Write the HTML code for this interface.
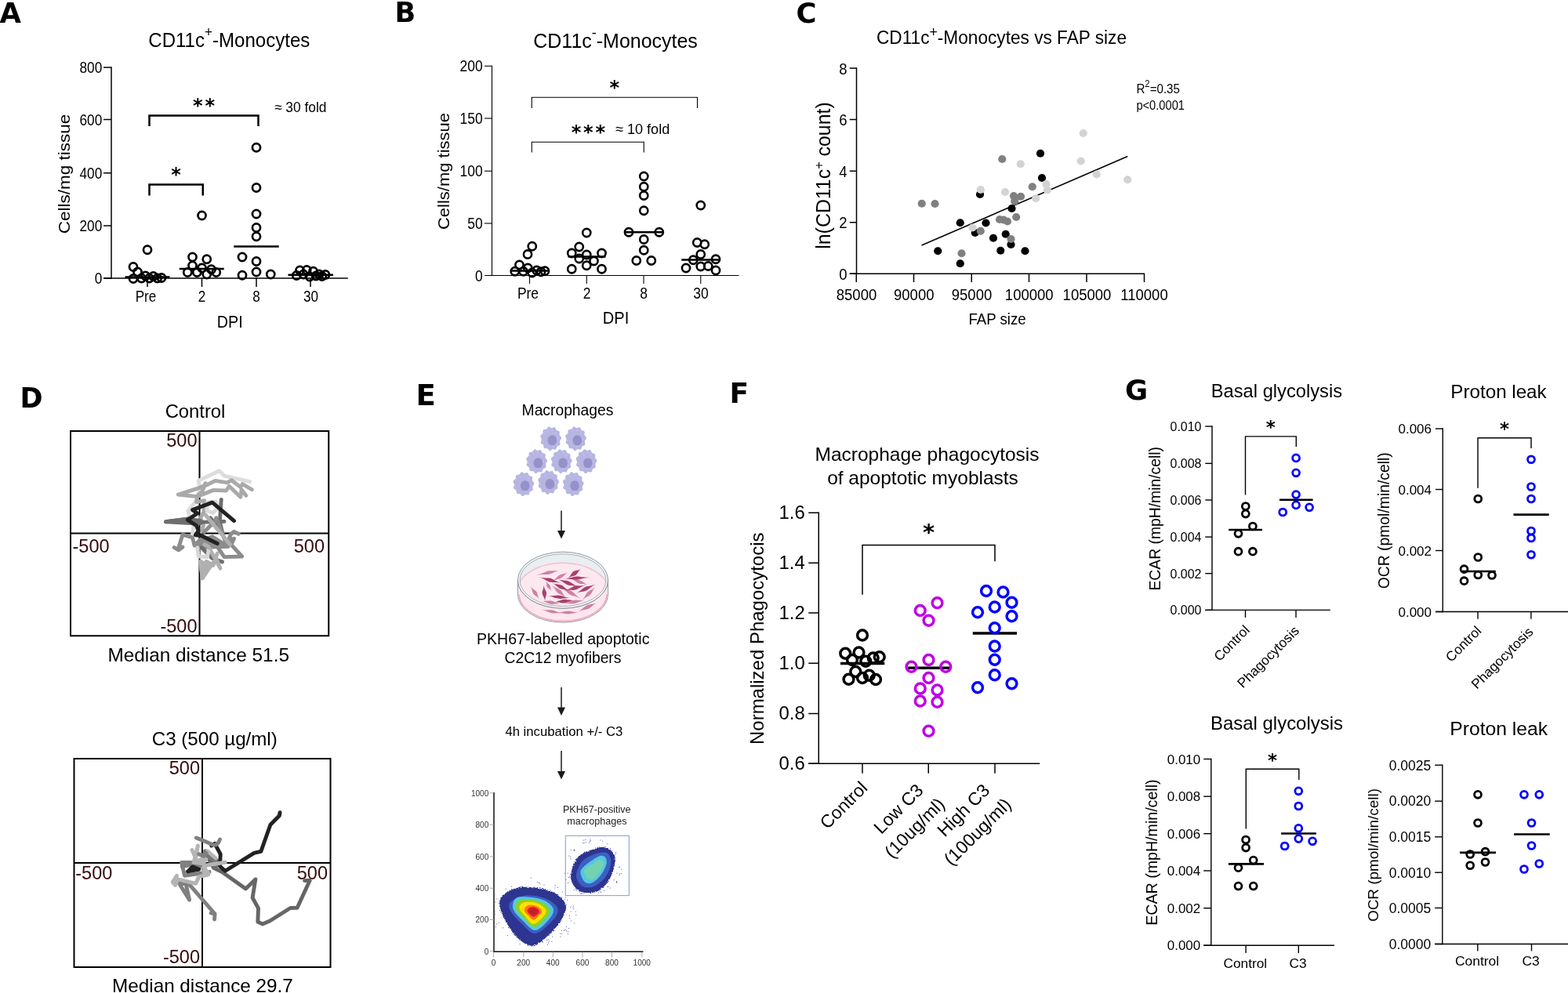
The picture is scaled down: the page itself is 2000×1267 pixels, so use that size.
<!DOCTYPE html>
<html lang="en"><head><meta charset="utf-8"><title>Figure</title>
<style>
html,body{margin:0;padding:0;background:#fff;}
body{width:2000px;height:1267px;}
svg{display:block;font-family:"Liberation Sans", sans-serif;}
text{white-space:pre;}
</style></head><body>
<svg width="2000" height="1267" viewBox="0 0 2000 1267">
<rect x="0" y="0" width="2000" height="1267" fill="#fff"/>
<!-- Panel A -->
<text x="-0.5" y="28.8" font-size="35.5" font-weight="bold" font-family='"DejaVu Sans", "Liberation Sans", sans-serif'>A</text>
<text x="189.3" y="60.3" font-size="26.4" textLength="206" lengthAdjust="spacingAndGlyphs">CD11c<tspan font-size="19" dy="-13">+</tspan><tspan dy="13">-Monocytes</tspan></text>
<line x1="142" y1="85.25" x2="142" y2="355.75" stroke="#000" stroke-width="1.5"/>
<line x1="132" y1="355" x2="443.75" y2="355" stroke="#000" stroke-width="1.5"/>
<line x1="132" y1="86" x2="142" y2="86" stroke="#000" stroke-width="1.5"/>
<line x1="132" y1="152.5" x2="142" y2="152.5" stroke="#000" stroke-width="1.5"/>
<line x1="132" y1="220.75" x2="142" y2="220.75" stroke="#000" stroke-width="1.5"/>
<line x1="132" y1="288" x2="142" y2="288" stroke="#000" stroke-width="1.5"/>
<line x1="132" y1="355" x2="142" y2="355" stroke="#000" stroke-width="1.5"/>
<line x1="188" y1="355" x2="188" y2="366" stroke="#000" stroke-width="1.5"/>
<line x1="257.5" y1="355" x2="257.5" y2="366" stroke="#000" stroke-width="1.5"/>
<line x1="327" y1="355" x2="327" y2="366" stroke="#000" stroke-width="1.5"/>
<line x1="396" y1="355" x2="396" y2="366" stroke="#000" stroke-width="1.5"/>
<text x="130.3" y="93" font-size="19.5" text-anchor="end" textLength="28.79" lengthAdjust="spacingAndGlyphs">800</text>
<text x="130.3" y="159.5" font-size="19.5" text-anchor="end" textLength="28.79" lengthAdjust="spacingAndGlyphs">600</text>
<text x="130.3" y="227.75" font-size="19.5" text-anchor="end" textLength="28.79" lengthAdjust="spacingAndGlyphs">400</text>
<text x="130.3" y="295" font-size="19.5" text-anchor="end" textLength="28.79" lengthAdjust="spacingAndGlyphs">200</text>
<text x="130.3" y="362" font-size="19.5" text-anchor="end" textLength="9.6" lengthAdjust="spacingAndGlyphs">0</text>
<text x="186" y="385.1" font-size="19.3" text-anchor="middle" textLength="26.58" lengthAdjust="spacingAndGlyphs">Pre</text>
<text x="257.5" y="385.1" font-size="19.3" text-anchor="middle" textLength="9.5" lengthAdjust="spacingAndGlyphs">2</text>
<text x="327" y="385.1" font-size="19.3" text-anchor="middle" textLength="9.5" lengthAdjust="spacingAndGlyphs">8</text>
<text x="396.5" y="385.1" font-size="19.3" text-anchor="middle" textLength="19" lengthAdjust="spacingAndGlyphs">30</text>
<text x="293.3" y="418" font-size="22.3" text-anchor="middle" textLength="32.9" lengthAdjust="spacingAndGlyphs">DPI</text>
<text x="89.4" y="222" font-size="20.4" text-anchor="middle" transform="rotate(-90 89.4 222)" textLength="152.5" lengthAdjust="spacingAndGlyphs">Cells/mg tissue</text>
<path d="M190.5 161 V147.5 H329.5 V161" fill="none" stroke="#000" stroke-width="2.5" stroke-linejoin="miter"/>
<path d="M190.5 249.5 V235.5 H258.75 V249.5" fill="none" stroke="#000" stroke-width="2.5" stroke-linejoin="miter"/>
<text x="261.4" y="143.2" font-size="24" text-anchor="middle" font-weight="bold" font-family='"DejaVu Sans", "Liberation Sans", sans-serif' letter-spacing="2.8">**</text>
<text x="224.5" y="231" font-size="24" text-anchor="middle" font-weight="bold" font-family='"DejaVu Sans", "Liberation Sans", sans-serif'>*</text>
<text x="350" y="142.8" font-size="18.4" textLength="66.5" lengthAdjust="spacingAndGlyphs">≈ 30 fold</text>
<g fill="none" stroke="#000" stroke-width="2.7">
<circle cx="188" cy="318.75" r="5.05"/>
<circle cx="170" cy="340.5" r="5.05"/>
<circle cx="175.5" cy="347" r="5.05"/>
<circle cx="170" cy="355.5" r="5.05"/>
<circle cx="180.5" cy="355" r="5.05"/>
<circle cx="185.5" cy="352" r="5.05"/>
<circle cx="190.5" cy="355" r="5.05"/>
<circle cx="195.5" cy="352.5" r="5.05"/>
<circle cx="200.75" cy="355" r="5.05"/>
<circle cx="206" cy="354.5" r="5.05"/>
<circle cx="257.5" cy="275" r="5.05"/>
<circle cx="245.5" cy="328" r="5.05"/>
<circle cx="263.75" cy="330.75" r="5.05"/>
<circle cx="245.5" cy="339" r="5.05"/>
<circle cx="257.5" cy="342" r="5.05"/>
<circle cx="269.5" cy="343.75" r="5.05"/>
<circle cx="239.25" cy="347.5" r="5.05"/>
<circle cx="251.25" cy="347.5" r="5.05"/>
<circle cx="263.75" cy="350" r="5.05"/>
<circle cx="275.75" cy="347.5" r="5.05"/>
<circle cx="327" cy="188.25" r="5.05"/>
<circle cx="327" cy="239.5" r="5.05"/>
<circle cx="327" cy="273" r="5.05"/>
<circle cx="327" cy="290.5" r="5.05"/>
<circle cx="327" cy="301.75" r="5.05"/>
<circle cx="309" cy="328" r="5.05"/>
<circle cx="327" cy="333.5" r="5.05"/>
<circle cx="309" cy="351.25" r="5.05"/>
<circle cx="327" cy="347" r="5.05"/>
<circle cx="345.25" cy="350" r="5.05"/>
<circle cx="378.25" cy="351.5" r="5.05"/>
<circle cx="382.5" cy="345" r="5.05"/>
<circle cx="387" cy="350" r="5.05"/>
<circle cx="391.25" cy="344.5" r="5.05"/>
<circle cx="395" cy="353" r="5.05"/>
<circle cx="399.5" cy="346.25" r="5.05"/>
<circle cx="403" cy="352" r="5.05"/>
<circle cx="407" cy="350" r="5.05"/>
<circle cx="410.75" cy="352.5" r="5.05"/>
<circle cx="415" cy="350.5" r="5.05"/>
</g>
<line x1="159.5" y1="353.5" x2="216.5" y2="353.5" stroke="#000" stroke-width="2.5"/>
<line x1="228.75" y1="343" x2="285.75" y2="343" stroke="#000" stroke-width="2.5"/>
<line x1="298.25" y1="314.5" x2="355.75" y2="314.5" stroke="#000" stroke-width="2.5"/>
<line x1="367.5" y1="350.75" x2="425" y2="350.75" stroke="#000" stroke-width="2.5"/>
<!-- Panel B -->
<text x="503.5" y="27.5" font-size="35" font-weight="bold" font-family='"DejaVu Sans", "Liberation Sans", sans-serif'>B</text>
<text x="680.3" y="60.6" font-size="26.2" textLength="209.5" lengthAdjust="spacingAndGlyphs">CD11c<tspan font-size="19" dy="-13">-</tspan><tspan dy="13">-Monocytes</tspan></text>
<line x1="627.5" y1="83.7" x2="627.5" y2="352.05" stroke="#000" stroke-width="1.1"/>
<line x1="618" y1="351.5" x2="942.5" y2="351.5" stroke="#000" stroke-width="1.1"/>
<line x1="618" y1="84.25" x2="627.5" y2="84.25" stroke="#000" stroke-width="1.1"/>
<line x1="618" y1="151" x2="627.5" y2="151" stroke="#000" stroke-width="1.1"/>
<line x1="618" y1="218.25" x2="627.5" y2="218.25" stroke="#000" stroke-width="1.1"/>
<line x1="618" y1="285" x2="627.5" y2="285" stroke="#000" stroke-width="1.1"/>
<line x1="618" y1="351.5" x2="627.5" y2="351.5" stroke="#000" stroke-width="1.1"/>
<line x1="675.5" y1="351.5" x2="675.5" y2="362" stroke="#000" stroke-width="1.1"/>
<line x1="748.25" y1="351.5" x2="748.25" y2="362" stroke="#000" stroke-width="1.1"/>
<line x1="821" y1="351.5" x2="821" y2="362" stroke="#000" stroke-width="1.1"/>
<line x1="893.75" y1="351.5" x2="893.75" y2="362" stroke="#000" stroke-width="1.1"/>
<text x="615.6" y="91.25" font-size="19.4" text-anchor="end" textLength="29.13" lengthAdjust="spacingAndGlyphs">200</text>
<text x="615.6" y="158" font-size="19.4" text-anchor="end" textLength="29.13" lengthAdjust="spacingAndGlyphs">150</text>
<text x="615.6" y="225.25" font-size="19.4" text-anchor="end" textLength="29.13" lengthAdjust="spacingAndGlyphs">100</text>
<text x="615.6" y="292" font-size="19.4" text-anchor="end" textLength="19.42" lengthAdjust="spacingAndGlyphs">50</text>
<text x="615.6" y="358.5" font-size="19.4" text-anchor="end" textLength="9.71" lengthAdjust="spacingAndGlyphs">0</text>
<text x="673.5" y="380.9" font-size="19.4" text-anchor="middle" textLength="27.17" lengthAdjust="spacingAndGlyphs">Pre</text>
<text x="748.5" y="380.9" font-size="19.4" text-anchor="middle" textLength="9.71" lengthAdjust="spacingAndGlyphs">2</text>
<text x="821" y="380.9" font-size="19.4" text-anchor="middle" textLength="9.71" lengthAdjust="spacingAndGlyphs">8</text>
<text x="894" y="380.9" font-size="19.4" text-anchor="middle" textLength="19.42" lengthAdjust="spacingAndGlyphs">30</text>
<text x="785.6" y="413.3" font-size="22.3" text-anchor="middle" textLength="33.46" lengthAdjust="spacingAndGlyphs">DPI</text>
<text x="572.5" y="218.5" font-size="20.6" text-anchor="middle" transform="rotate(-90 572.5 218.5)" textLength="149" lengthAdjust="spacingAndGlyphs">Cells/mg tissue</text>
<path d="M678.25 138 V124.25 H889.5 V138" fill="none" stroke="#000" stroke-width="1.1" stroke-linejoin="miter"/>
<path d="M678.25 194.5 V181.25 H821.25 V194.5" fill="none" stroke="#000" stroke-width="1.1" stroke-linejoin="miter"/>
<text x="783.75" y="120.3" font-size="24" text-anchor="middle" font-weight="bold" font-family='"DejaVu Sans", "Liberation Sans", sans-serif'>*</text>
<text x="751.8" y="177.3" font-size="24" text-anchor="middle" font-weight="bold" font-family='"DejaVu Sans", "Liberation Sans", sans-serif' letter-spacing="2.8">***</text>
<text x="785" y="171.4" font-size="18.8" textLength="69.2" lengthAdjust="spacingAndGlyphs">≈ 10 fold</text>
<g fill="none" stroke="#000" stroke-width="2.6">
<circle cx="678.75" cy="314.25" r="5.1"/>
<circle cx="673" cy="324.5" r="5.1"/>
<circle cx="662.5" cy="338" r="5.1"/>
<circle cx="673.25" cy="342" r="5.1"/>
<circle cx="656.75" cy="346.25" r="5.1"/>
<circle cx="667.5" cy="346.25" r="5.1"/>
<circle cx="678.75" cy="348" r="5.1"/>
<circle cx="684.5" cy="345" r="5.1"/>
<circle cx="690" cy="346.75" r="5.1"/>
<circle cx="695" cy="345.75" r="5.1"/>
<circle cx="748.25" cy="297" r="5.1"/>
<circle cx="738.75" cy="315" r="5.1"/>
<circle cx="729.25" cy="323" r="5.1"/>
<circle cx="748.25" cy="325" r="5.1"/>
<circle cx="767.5" cy="323" r="5.1"/>
<circle cx="738.75" cy="330" r="5.1"/>
<circle cx="757.5" cy="333" r="5.1"/>
<circle cx="748.25" cy="338.75" r="5.1"/>
<circle cx="729.25" cy="343.25" r="5.1"/>
<circle cx="767.5" cy="343.25" r="5.1"/>
<circle cx="821.25" cy="225" r="5.1"/>
<circle cx="821.25" cy="238.25" r="5.1"/>
<circle cx="821.25" cy="249.5" r="5.1"/>
<circle cx="821.25" cy="268.75" r="5.1"/>
<circle cx="802" cy="296.25" r="5.1"/>
<circle cx="840.75" cy="296.25" r="5.1"/>
<circle cx="821.25" cy="305.5" r="5.1"/>
<circle cx="821.25" cy="319.25" r="5.1"/>
<circle cx="811.75" cy="332.5" r="5.1"/>
<circle cx="830.75" cy="332.5" r="5.1"/>
<circle cx="893.75" cy="262" r="5.1"/>
<circle cx="889.25" cy="309.5" r="5.1"/>
<circle cx="898.75" cy="311.75" r="5.1"/>
<circle cx="893.75" cy="324.5" r="5.1"/>
<circle cx="884.25" cy="331.75" r="5.1"/>
<circle cx="913" cy="330.75" r="5.1"/>
<circle cx="875" cy="342" r="5.1"/>
<circle cx="893.75" cy="340" r="5.1"/>
<circle cx="903.25" cy="339.5" r="5.1"/>
<circle cx="913" cy="345" r="5.1"/>
</g>
<line x1="652.5" y1="345.5" x2="700" y2="345.5" stroke="#000" stroke-width="2.5"/>
<line x1="724.5" y1="327.5" x2="772.5" y2="327.5" stroke="#000" stroke-width="2.5"/>
<line x1="797" y1="296.25" x2="846" y2="296.25" stroke="#000" stroke-width="2.5"/>
<line x1="869.25" y1="331.5" x2="917.5" y2="331.5" stroke="#000" stroke-width="2.5"/>
<!-- Panel C -->
<text x="1015.5" y="28.5" font-size="35.5" font-weight="bold" font-family='"DejaVu Sans", "Liberation Sans", sans-serif'>C</text>
<text x="1118" y="56.2" font-size="24.4" textLength="319" lengthAdjust="spacingAndGlyphs">CD11c<tspan font-size="19" dy="-9">+</tspan><tspan dy="9">-Monocytes vs FAP size</tspan></text>
<line x1="1092.5" y1="86.25" x2="1092.5" y2="350" stroke="#000" stroke-width="1.5"/>
<line x1="1083.75" y1="349.25" x2="1460" y2="349.25" stroke="#000" stroke-width="1.5"/>
<line x1="1083.75" y1="87" x2="1092.5" y2="87" stroke="#000" stroke-width="1.5"/>
<line x1="1083.75" y1="152.5" x2="1092.5" y2="152.5" stroke="#000" stroke-width="1.5"/>
<line x1="1083.75" y1="218.25" x2="1092.5" y2="218.25" stroke="#000" stroke-width="1.5"/>
<line x1="1083.75" y1="283.75" x2="1092.5" y2="283.75" stroke="#000" stroke-width="1.5"/>
<line x1="1083.75" y1="349.25" x2="1092.5" y2="349.25" stroke="#000" stroke-width="1.5"/>
<line x1="1092.25" y1="349.25" x2="1092.25" y2="360" stroke="#000" stroke-width="1.5"/>
<line x1="1165.5" y1="349.25" x2="1165.5" y2="360" stroke="#000" stroke-width="1.5"/>
<line x1="1239.25" y1="349.25" x2="1239.25" y2="360" stroke="#000" stroke-width="1.5"/>
<line x1="1312.5" y1="349.25" x2="1312.5" y2="360" stroke="#000" stroke-width="1.5"/>
<line x1="1386" y1="349.25" x2="1386" y2="360" stroke="#000" stroke-width="1.5"/>
<line x1="1459.5" y1="349.25" x2="1459.5" y2="360" stroke="#000" stroke-width="1.5"/>
<text x="1080.6" y="94.6" font-size="20.9" text-anchor="end" textLength="10.3" lengthAdjust="spacingAndGlyphs">8</text>
<text x="1080.6" y="160.1" font-size="20.9" text-anchor="end" textLength="10.3" lengthAdjust="spacingAndGlyphs">6</text>
<text x="1080.6" y="225.85" font-size="20.9" text-anchor="end" textLength="10.3" lengthAdjust="spacingAndGlyphs">4</text>
<text x="1080.6" y="291.35" font-size="20.9" text-anchor="end" textLength="10.3" lengthAdjust="spacingAndGlyphs">2</text>
<text x="1080.6" y="356.85" font-size="20.9" text-anchor="end" textLength="10.3" lengthAdjust="spacingAndGlyphs">0</text>
<text x="1092.5" y="382.5" font-size="20.9" text-anchor="middle" textLength="51.49" lengthAdjust="spacingAndGlyphs">85000</text>
<text x="1165.75" y="382.5" font-size="20.9" text-anchor="middle" textLength="51.49" lengthAdjust="spacingAndGlyphs">90000</text>
<text x="1239.5" y="382.5" font-size="20.9" text-anchor="middle" textLength="51.49" lengthAdjust="spacingAndGlyphs">95000</text>
<text x="1312.75" y="382.5" font-size="20.9" text-anchor="middle" textLength="61.79" lengthAdjust="spacingAndGlyphs">100000</text>
<text x="1386.5" y="382.5" font-size="20.9" text-anchor="middle" textLength="61.79" lengthAdjust="spacingAndGlyphs">105000</text>
<text x="1459.5" y="382.5" font-size="20.9" text-anchor="middle" textLength="60.42" lengthAdjust="spacingAndGlyphs">110000</text>
<text x="1272" y="413.9" font-size="19.6" text-anchor="middle" textLength="73.14" lengthAdjust="spacingAndGlyphs">FAP size</text>
<text x="1058.5" y="224" font-size="26" text-anchor="middle" transform="rotate(-90 1058.5 224)" textLength="187.5" lengthAdjust="spacingAndGlyphs">ln(CD11c<tspan font-size="17" dy="-9">+</tspan><tspan dy="9"> count)</tspan></text>
<text x="1449.4" y="119.2" font-size="16.8" textLength="55.6" lengthAdjust="spacingAndGlyphs">R<tspan font-size="12.5" dy="-8.5">2</tspan><tspan dy="8.5">=0.35</tspan></text>
<text x="1449.4" y="140" font-size="16.8" textLength="61.6" lengthAdjust="spacingAndGlyphs">p&lt;0.0001</text>
<line x1="1175.5" y1="313" x2="1438.25" y2="199.5" stroke="#000" stroke-width="1.6"/>
<g fill="#000">
<circle cx="1327" cy="195.75" r="5.1"/>
<circle cx="1329" cy="227" r="5.1"/>
<circle cx="1250" cy="248" r="5.1"/>
<circle cx="1290.5" cy="266" r="5.1"/>
<circle cx="1224.75" cy="284.25" r="5.1"/>
<circle cx="1257.5" cy="284.5" r="5.1"/>
<circle cx="1243.75" cy="297" r="5.1"/>
<circle cx="1267" cy="303.75" r="5.1"/>
<circle cx="1282.75" cy="298.75" r="5.1"/>
<circle cx="1289.5" cy="312" r="5.1"/>
<circle cx="1196.25" cy="320.25" r="5.1"/>
<circle cx="1276.25" cy="319.75" r="5.1"/>
<circle cx="1307.5" cy="320.25" r="5.1"/>
<circle cx="1224.75" cy="336.25" r="5.1"/>
</g>
<g fill="#808080">
<circle cx="1278.25" cy="203" r="5.1"/>
<circle cx="1316.75" cy="238.25" r="5.1"/>
<circle cx="1175.75" cy="259.75" r="5.1"/>
<circle cx="1192.5" cy="260" r="5.1"/>
<circle cx="1293" cy="250" r="5.1"/>
<circle cx="1302" cy="250.75" r="5.1"/>
<circle cx="1294.25" cy="256.75" r="5.1"/>
<circle cx="1296.25" cy="277" r="5.1"/>
<circle cx="1275" cy="280" r="5.1"/>
<circle cx="1280" cy="280.5" r="5.1"/>
<circle cx="1285" cy="282.5" r="5.1"/>
<circle cx="1250.75" cy="294.75" r="5.1"/>
<circle cx="1289.5" cy="305" r="5.1"/>
<circle cx="1226.5" cy="323.25" r="5.1"/>
</g>
<g fill="#d3d3d3">
<circle cx="1381.75" cy="170" r="5.1"/>
<circle cx="1301.75" cy="209.25" r="5.1"/>
<circle cx="1378.75" cy="205.5" r="5.1"/>
<circle cx="1398.75" cy="222.5" r="5.1"/>
<circle cx="1438.25" cy="229.25" r="5.1"/>
<circle cx="1334.5" cy="235" r="5.1"/>
<circle cx="1335.75" cy="242.5" r="5.1"/>
<circle cx="1321.25" cy="253" r="5.1"/>
<circle cx="1282" cy="245" r="5.1"/>
<circle cx="1250.75" cy="242" r="5.1"/>
<circle cx="1240.5" cy="290.5" r="5.1"/>
</g>
<!-- Panel D -->
<text x="25.5" y="519.5" font-size="35" font-weight="bold" font-family='"DejaVu Sans", "Liberation Sans", sans-serif'>D</text>
<text x="249" y="533.25" font-size="24" text-anchor="middle" textLength="76.75" lengthAdjust="spacingAndGlyphs">Control</text>
<rect x="90" y="550" width="329.25" height="261.25" fill="none" stroke="#000" stroke-width="2"/>
<line x1="254.5" y1="550" x2="254.5" y2="811.25" stroke="#000" stroke-width="2"/>
<line x1="90" y1="680.5" x2="419.25" y2="680.5" stroke="#000" stroke-width="2"/>
<text x="251.5" y="570" font-size="23.5" text-anchor="end" fill="#35090b">500</text>
<text x="92.5" y="704.5" font-size="23.5" fill="#35090b">-500</text>
<text x="414" y="704.5" font-size="23.5" text-anchor="end" fill="#35090b">500</text>
<text x="251.5" y="807" font-size="23.5" text-anchor="end" fill="#35090b">-500</text>
<text x="253.2" y="843.75" font-size="24.2" text-anchor="middle" textLength="231.5" lengthAdjust="spacingAndGlyphs">Median distance 51.5</text>
<g fill="none" stroke-width="4.9" stroke-linecap="round" stroke-linejoin="round">
<polyline points="318.81,614.63 285.97,607.05 279.66,600.73 253.14,613.36 255.04,622.83 250.62,637.99 239.88,651.88 242.41,660.72 246.83,670.82 245.56,680.92" stroke="#dcdcdc"/>
<polyline points="321.33,624.73 309.34,617.53 306.81,621.57 295.45,612.73 289.76,615.89 274.61,613.36 260.72,620.31 261.98,616.52 258.19,626.62 251.88,632.94 250.62,640.51 260.72,638.62 260.09,653.14 255.67,660.72 259.46,670.82 256.93,678.4" stroke="#a9a9a9"/>
<polyline points="313.76,632.3 308.07,624.73 306.81,634.2 292.29,620.31 288.5,625.99 272.08,625.36 251.88,633.57 227.25,631.04 253.14,622.83 261.98,619.04" stroke="#a9a9a9"/>
<polyline points="211.47,665.77 240.51,661.98 255.67,666.4 285.97,665.39" stroke="#6e6e6e"/>
<polygon points="211.47,665.77 239.25,662.23 255.67,664.51 255.67,667.66 239.25,667.28" stroke="#6e6e6e" fill="#6e6e6e"/>
<polygon points="253.14,691.03 270.82,684.71 291.03,697.34 253.14,698.6" stroke="#8c8c8c" fill="#8c8c8c"/>
<polygon points="255.67,716.28 258.19,737.75 267.03,723.86" stroke="#b0b0b0" fill="#b0b0b0"/>
<polyline points="282.19,637.36 280.29,665.77 284.08,680.92 268.3,660.72" stroke="#6e6e6e"/>
<polyline points="222.2,698.6 227.88,701.76 232.94,697.97 227.88,698.6 232.94,682.19 245.56,685.97 248.09,696.08 255.67,688.5 289.76,696.71 275.87,660.72 274.61,664.51 260.72,678.4" stroke="#8c8c8c"/>
<polyline points="304.29,681.18 298.6,678.4 294.81,680.92 291.03,689.76 298.6,687.24 294.81,694.81 308.71,709.97 285.97,710.6 277.13,697.34" stroke="#8c8c8c"/>
<polyline points="255.67,689.76 270.82,685.97 288.5,696.71 255.67,697.34 255.67,689.76" stroke="#8c8c8c"/>
<polyline points="261.98,656.93 293.55,694.81" stroke="#b0b0b0"/>
<polyline points="256.93,698.6 270.82,712.49 283.45,716.91" stroke="#6e6e6e"/>
<polyline points="257.56,737.75 275.87,712.49 280.92,725.12 265.77,697.34 260.72,694.81" stroke="#b0b0b0"/>
<polyline points="255.67,716.28 258.19,737.75 265.77,722.6 255.67,716.28" stroke="#b0b0b0"/>
<polyline points="263.24,716.28 272.08,721.33 277.13,706.18" stroke="#b0b0b0"/>
<polyline points="251.88,698.6 253.14,709.97 264.51,710.6 265.77,703.65" stroke="#d6d6d6"/>
<polyline points="264.51,641.02 275.49,640.01 277.01,649.48 270.95,654.53 264,651.5 264.51,641.02" stroke="#dadada"/>
<polyline points="298.6,664.51 270.82,641.14 245.56,650.62 251.88,655.04 239.25,663.24 250.62,670.82 253.14,677.13 249.35,682.82 256.93,683.45 277.13,693.55" stroke="#222222"/>
</g>
<text x="273.75" y="951.25" font-size="24" text-anchor="middle" textLength="160" lengthAdjust="spacingAndGlyphs">C3 (500 µg/ml)</text>
<rect x="94.5" y="968" width="327" height="266" fill="none" stroke="#000" stroke-width="2"/>
<line x1="258" y1="968" x2="258" y2="1234" stroke="#000" stroke-width="2"/>
<line x1="94.5" y1="1101" x2="421.5" y2="1101" stroke="#000" stroke-width="2"/>
<text x="255" y="988" font-size="23.5" text-anchor="end" fill="#35090b">500</text>
<text x="96.25" y="1121.75" font-size="23.5" fill="#35090b">-500</text>
<text x="418" y="1121.75" font-size="23.5" text-anchor="end" fill="#35090b">500</text>
<text x="255" y="1229.25" font-size="23.5" text-anchor="end" fill="#35090b">-500</text>
<text x="258.4" y="1265.5" font-size="24" text-anchor="middle" textLength="230.75" lengthAdjust="spacingAndGlyphs">Median distance 29.7</text>
<g fill="none" stroke-width="4.9" stroke-linecap="round" stroke-linejoin="round">
<polyline points="388.53,1123.59 395.24,1123.32 379.14,1158.21 370.41,1158.48 344.25,1174.98 334.86,1179.01 328.82,1176.33 329.49,1158.88 322.11,1145.46 325.87,1121.98 313.39,1134.06 283.19,1112.59 272.46,1107.22 261.73,1087.09" stroke="#666666"/>
<polyline points="273.53,1172.97 274.07,1165.99 269.11,1164.92 274.07,1165.99 241.6,1128.69 228.18,1126.68 241.6,1148.15 237.57,1130.03" stroke="#808080"/>
<polyline points="246.96,1100.51 231.53,1100.51 235.56,1117.28 257.7,1113.93 267.09,1112.59" stroke="#808080"/>
<polyline points="232.2,1105.88 244.28,1103.19 256.36,1105.88" stroke="#808080"/>
<polyline points="256.36,1091.12 263.07,1089.78 275.14,1100.51" stroke="#777777"/>
<polyline points="261.73,1085.75 272.46,1095.14 280.51,1100.51 275.14,1105.88" stroke="#707070"/>
<polyline points="357,1036.77 356.33,1040.8 344.92,1052.2 332.84,1086.42 324.12,1088.43 287.22,1111.25 280.51,1105.21 281.18,1089.78 273.8,1076.36 269.78,1079.04" stroke="#222222"/>
<polyline points="239.58,1111.92 245.62,1105.88 253.67,1109.23 239.58,1111.92" stroke="#222222"/>
<polyline points="250.32,1068.98 260.38,1073 271.12,1077.7 275.14,1077.97 278.5,1075.28 280.51,1070.99" stroke="#808080"/>
<polyline points="225.5,1117.28 220.13,1125.34 223.48,1129.36 226.84,1121.98 249.65,1127.35 253.67,1118.63 265.75,1115.94" stroke="#b4b4b4"/>
<polyline points="287.22,1100.24 260.38,1104.54 264.41,1115.94 259.04,1111.25" stroke="#b4b4b4"/>
<polyline points="244.95,1084.41 249.65,1095.14 252.33,1079.04 246.96,1100.51 260.38,1095.14 259.04,1100.51" stroke="#b4b4b4"/>
<polyline points="264.41,1085.75 275.14,1095.14" stroke="#b4b4b4"/>
<polyline points="248.31,1099.17 263.07,1096.49 259.04,1101.85 249.65,1100.51" stroke="#b4b4b4"/>
<polyline points="259.04,1107.22 265.75,1113.93 260.38,1113.93" stroke="#b4b4b4"/>
<polyline points="253.67,1089.78 260.38,1092.46 263.07,1088.43" stroke="#808080"/>
</g>
<!-- Panel E -->
<text x="530.4" y="517.4" font-size="37" font-weight="bold" font-family='"DejaVu Sans", "Liberation Sans", sans-serif'>E</text>
<text x="724" y="530" font-size="19.5" text-anchor="middle" textLength="116.8" lengthAdjust="spacingAndGlyphs">Macrophages</text>
<defs><g id="mac"><path d="M13.44 0 L12.57 1.38 L11.67 2.59 L11.47 3.87 L11.85 5.46 L12.01 7.12 L11.31 8.36 L9.93 8.98 L8.6 9.43 L7.83 10.39 L7.41 11.96 L6.76 13.46 L5.58 14.06 L4.13 13.73 L2.8 13.29 L1.7 13.61 L0.61 14.67 L-0.64 15.52 L-1.91 15.3 L-2.98 14.12 L-3.89 12.92 L-4.97 12.51 L-6.38 12.72 L-7.84 12.66 L-8.8 11.68 L-9.14 10.02 L-9.34 8.45 L-10.06 7.43 L-11.35 6.73 L-12.54 5.77 L-12.9 4.36 L-12.4 2.75 L-11.83 1.3 L-11.96 0 L-12.71 -1.4 L-13.27 -2.94 L-12.9 -4.36 L-11.73 -5.4 L-10.57 -6.26 L-10.06 -7.43 L-10.04 -9.08 L-9.78 -10.72 L-8.8 -11.68 L-7.33 -11.83 L-5.94 -11.84 L-4.97 -12.51 L-4.18 -13.88 L-3.19 -15.1 L-1.91 -15.3 L-0.6 -14.51 L0.57 -13.66 L1.7 -13.61 L3.01 -14.27 L4.42 -14.68 L5.58 -14.06 L6.32 -12.58 L6.9 -11.14 L7.83 -10.39 L9.24 -10.13 L10.62 -9.61 L11.31 -8.36 L11.23 -6.66 L11.04 -5.08 L11.47 -3.87 L12.54 -2.78 L13.45 -1.48Z" fill="#b7b5e2"/>
<circle cx="1.5" cy="-11" r="0.75" fill="#cfcdf0"/>
<circle cx="6" cy="-7.5" r="0.75" fill="#cfcdf0"/>
<circle cx="-9" cy="-7" r="0.75" fill="#cfcdf0"/>
<circle cx="-10.5" cy="2.5" r="0.75" fill="#cfcdf0"/>
<circle cx="8.5" cy="1" r="0.75" fill="#cfcdf0"/>
<circle cx="2" cy="9.5" r="0.75" fill="#cfcdf0"/>
<circle cx="-4" cy="-9.5" r="0.75" fill="#cfcdf0"/>
<ellipse cx="1.9" cy="2.2" rx="5.9" ry="6.5" fill="#9691c9"/></g></defs>
<use href="#mac" x="702.5" y="559.65"/>
<use href="#mac" x="734.4" y="559.65"/>
<use href="#mac" x="684.5" y="588.6"/>
<use href="#mac" x="716.15" y="588.6"/>
<use href="#mac" x="747.9" y="588.6"/>
<use href="#mac" x="667.8" y="617.6"/>
<use href="#mac" x="699.5" y="615.4"/>
<use href="#mac" x="731.15" y="617.6"/>
<line x1="716" y1="651.4" x2="716" y2="679.4" stroke="#1a1a1a" stroke-width="1.5"/>
<path d="M711 676.9 L721 676.9 L716 687.4 Z" fill="#1a1a1a"/>
<line x1="716" y1="877" x2="716" y2="905" stroke="#1a1a1a" stroke-width="1.5"/>
<path d="M711 902.5 L721 902.5 L716 913 Z" fill="#1a1a1a"/>
<line x1="716" y1="958" x2="716" y2="986.5" stroke="#1a1a1a" stroke-width="1.5"/>
<path d="M711 984 L721 984 L716 994.5 Z" fill="#1a1a1a"/>
<defs><clipPath id="dishclip"><ellipse cx="718" cy="740.2" rx="56" ry="34.4"/></clipPath></defs>
<path d="M660.4 740.2 V758.2 A57.6 36 0 0 0 775.6 758.2 V740.2 A57.6 36 0 0 1 660.4 740.2 Z" fill="#fde6ee" stroke="#75858c" stroke-width="0.8"/>
<path d="M662.2 758.2 A55.8 34.2 0 0 0 773.8 758.2" fill="none" stroke="#f0a9c1" stroke-width="1.5"/>
<ellipse cx="718" cy="740.2" rx="57.6" ry="36" fill="#e9eef0" stroke="#75858c" stroke-width="0.8"/>
<g clip-path="url(#dishclip)">
<ellipse cx="718" cy="755.7" rx="58.6" ry="37.5" fill="#fde8f0" stroke="#f3bdd0" stroke-width="1.4"/>
<path d="M-15.54 0 C-6.99 0 -4.66 -2.09 0 -2.09 C4.66 -2.09 6.99 0 15.54 0 C6.99 0 4.66 2.09 0 2.09 C-4.66 2.09 -6.99 0 -15.54 0Z" fill="#cc82a4" transform="translate(699.73 730.64) rotate(-12)"/>
<path d="M-13.47 0 C-6.06 0 -4.04 -2.09 0 -2.09 C4.04 -2.09 6.06 0 13.47 0 C6.06 0 4.04 2.09 0 2.09 C-4.04 2.09 -6.06 0 -13.47 0Z" fill="#cc82a4" transform="translate(714.66 735.62) rotate(-30)"/>
<path d="M-13.47 0 C-6.06 0 -4.04 -2.09 0 -2.09 C4.04 -2.09 6.06 0 13.47 0 C6.06 0 4.04 2.09 0 2.09 C-4.04 2.09 -6.06 0 -13.47 0Z" fill="#cc82a4" transform="translate(739.52 742.66) rotate(20)"/>
<path d="M-8.29 0 C-3.73 0 -2.49 -2.09 0 -2.09 C2.49 -2.09 3.73 0 8.29 0 C3.73 0 2.49 2.09 0 2.09 C-2.49 2.09 -3.73 0 -8.29 0Z" fill="#cc82a4" transform="translate(699.73 748.05) rotate(60)"/>
<path d="M-10.88 0 C-4.9 0 -3.26 -2.39 0 -2.39 C3.26 -2.39 4.9 0 10.88 0 C4.9 0 3.26 2.39 0 2.39 C-3.26 2.39 -4.9 0 -10.88 0Z" fill="#cc82a4" transform="translate(682.33 756.34) rotate(55)"/>
<path d="M-13.47 0 C-6.06 0 -4.04 -2.39 0 -2.39 C4.04 -2.39 6.06 0 13.47 0 C6.06 0 4.04 2.39 0 2.39 C-4.04 2.39 -6.06 0 -13.47 0Z" fill="#cc82a4" transform="translate(713 754.68) rotate(40)"/>
<path d="M-15.54 0 C-6.99 0 -4.66 -2.39 0 -2.39 C4.66 -2.39 6.99 0 15.54 0 C6.99 0 4.66 2.39 0 2.39 C-4.66 2.39 -6.99 0 -15.54 0Z" fill="#cc82a4" transform="translate(727.92 756.34) rotate(30)"/>
<path d="M-13.47 0 C-6.06 0 -4.04 -2.39 0 -2.39 C4.04 -2.39 6.06 0 13.47 0 C6.06 0 4.04 2.39 0 2.39 C-4.04 2.39 -6.06 0 -13.47 0Z" fill="#cc82a4" transform="translate(751.13 757.17) rotate(-45)"/>
<path d="M-13.47 0 C-6.06 0 -4.04 -2.09 0 -2.09 C4.04 -2.09 6.06 0 13.47 0 C6.06 0 4.04 2.09 0 2.09 C-4.04 2.09 -6.06 0 -13.47 0Z" fill="#cc82a4" transform="translate(703.05 768.77) rotate(10)"/>
<path d="M-15.02 0 C-6.76 0 -4.51 -2.09 0 -2.09 C4.51 -2.09 6.76 0 15.02 0 C6.76 0 4.51 2.09 0 2.09 C-4.51 2.09 -6.76 0 -15.02 0Z" fill="#cc82a4" transform="translate(732.89 767.94) rotate(-10)"/>
<path d="M-15.02 0 C-6.76 0 -4.51 -2.39 0 -2.39 C4.51 -2.39 6.76 0 15.02 0 C6.76 0 4.51 2.39 0 2.39 C-4.51 2.39 -6.76 0 -15.02 0Z" fill="#a8406e" transform="translate(701.39 740.18) rotate(15)"/>
<path d="M-11.4 0 C-5.13 0 -3.42 -2.69 0 -2.69 C3.42 -2.69 5.13 0 11.4 0 C5.13 0 3.42 2.69 0 2.69 C-3.42 2.69 -5.13 0 -11.4 0Z" fill="#a8406e" transform="translate(732.89 731.47) rotate(-35)"/>
<path d="M-17.61 0 C-7.93 0 -5.28 -2.09 0 -2.09 C5.28 -2.09 7.93 0 17.61 0 C7.93 0 5.28 2.09 0 2.09 C-5.28 2.09 -7.93 0 -17.61 0Z" fill="#a8406e" transform="translate(735.38 737.69) rotate(-3)"/>
<path d="M-15.54 0 C-6.99 0 -4.66 -2.39 0 -2.39 C4.66 -2.39 6.99 0 15.54 0 C6.99 0 4.66 2.39 0 2.39 C-4.66 2.39 -6.99 0 -15.54 0Z" fill="#a8406e" transform="translate(724.6 743.91) rotate(20)"/>
<path d="M-13.47 0 C-6.06 0 -4.04 -2.39 0 -2.39 C4.04 -2.39 6.06 0 13.47 0 C6.06 0 4.04 2.39 0 2.39 C-4.04 2.39 -6.06 0 -13.47 0Z" fill="#a8406e" transform="translate(715.48 748.88) rotate(25)"/>
<path d="M-15.02 0 C-6.76 0 -4.51 -2.39 0 -2.39 C4.51 -2.39 6.76 0 15.02 0 C6.76 0 4.51 2.39 0 2.39 C-4.51 2.39 -6.76 0 -15.02 0Z" fill="#a8406e" transform="translate(733.72 750.12) rotate(-15)"/>
<path d="M-15.02 0 C-6.76 0 -4.51 -2.39 0 -2.39 C4.51 -2.39 6.76 0 15.02 0 C6.76 0 4.51 2.39 0 2.39 C-4.51 2.39 -6.76 0 -15.02 0Z" fill="#a8406e" transform="translate(746.98 751.37) rotate(-25)"/>
<path d="M-11.4 0 C-5.13 0 -3.42 -2.69 0 -2.69 C3.42 -2.69 5.13 0 11.4 0 C5.13 0 3.42 2.69 0 2.69 C-3.42 2.69 -5.13 0 -11.4 0Z" fill="#a8406e" transform="translate(694.35 756.75) rotate(85)"/>
<path d="M-16.58 0 C-7.46 0 -4.97 -2.09 0 -2.09 C4.97 -2.09 7.46 0 16.58 0 C7.46 0 4.97 2.09 0 2.09 C-4.97 2.09 -7.46 0 -16.58 0Z" fill="#a8406e" transform="translate(713 761.73) rotate(5)"/>
<path d="M-15.54 0 C-6.99 0 -4.66 -2.39 0 -2.39 C4.66 -2.39 6.99 0 15.54 0 C6.99 0 4.66 2.39 0 2.39 C-4.66 2.39 -6.99 0 -15.54 0Z" fill="#a8406e" transform="translate(719.63 767.12) rotate(-5)"/>
</g>
<ellipse cx="718" cy="740.2" rx="55.9" ry="34.3" fill="none" stroke="#ffffff" stroke-width="1"/>
<ellipse cx="718" cy="740.2" rx="55" ry="33.4" fill="none" stroke="#75858c" stroke-width="0.6"/>
<path d="M-15.54 0 C-6.99 0 -4.66 -2.39 0 -2.39 C4.66 -2.39 6.99 0 15.54 0 C6.99 0 4.66 2.39 0 2.39 C-4.66 2.39 -6.99 0 -15.54 0Z" fill="#cc82a4" transform="translate(749.47 774.58) rotate(-25)"/>
<path d="M-15.02 0 C-6.76 0 -4.51 -1.79 0 -1.79 C4.51 -1.79 6.76 0 15.02 0 C6.76 0 4.51 1.79 0 1.79 C-4.51 1.79 -6.76 0 -15.02 0Z" fill="#cc82a4" transform="translate(703.88 780.38) rotate(10)"/>
<path d="M-17.1 0 C-7.69 0 -5.13 -1.79 0 -1.79 C5.13 -1.79 7.69 0 17.1 0 C7.69 0 5.13 1.79 0 1.79 C-5.13 1.79 -7.69 0 -17.1 0Z" fill="#cc82a4" transform="translate(724.6 781.62) rotate(0)"/>
<text x="718.2" y="821.6" font-size="20" text-anchor="middle" textLength="220.4" lengthAdjust="spacingAndGlyphs">PKH67-labelled apoptotic</text>
<text x="718" y="845.6" font-size="20" text-anchor="middle" textLength="148.8" lengthAdjust="spacingAndGlyphs">C2C12 myofibers</text>
<text x="719.4" y="939.4" font-size="16.5" text-anchor="middle" textLength="150" lengthAdjust="spacingAndGlyphs">4h incubation +/- C3</text>
<line x1="630" y1="1011" x2="630" y2="1215" stroke="#111" stroke-width="1.5"/>
<line x1="629.3" y1="1214.3" x2="820.5" y2="1214.3" stroke="#111" stroke-width="1.5"/>
<line x1="624.5" y1="1011.75" x2="630" y2="1011.75" stroke="#888" stroke-width="0.7"/>
<text x="623.3" y="1015.55" font-size="10.8" text-anchor="end" fill="#333333" textLength="22.34" lengthAdjust="spacingAndGlyphs">1000</text>
<line x1="624.5" y1="1052.25" x2="630" y2="1052.25" stroke="#888" stroke-width="0.7"/>
<text x="623.3" y="1056.05" font-size="10.8" text-anchor="end" fill="#333333" textLength="16.76" lengthAdjust="spacingAndGlyphs">800</text>
<line x1="624.5" y1="1093" x2="630" y2="1093" stroke="#888" stroke-width="0.7"/>
<text x="623.3" y="1096.8" font-size="10.8" text-anchor="end" fill="#333333" textLength="16.76" lengthAdjust="spacingAndGlyphs">600</text>
<line x1="624.5" y1="1133.25" x2="630" y2="1133.25" stroke="#888" stroke-width="0.7"/>
<text x="623.3" y="1137.05" font-size="10.8" text-anchor="end" fill="#333333" textLength="16.76" lengthAdjust="spacingAndGlyphs">400</text>
<line x1="624.5" y1="1173.25" x2="630" y2="1173.25" stroke="#888" stroke-width="0.7"/>
<text x="623.3" y="1177.05" font-size="10.8" text-anchor="end" fill="#333333" textLength="16.76" lengthAdjust="spacingAndGlyphs">200</text>
<line x1="624.5" y1="1213.75" x2="630" y2="1213.75" stroke="#888" stroke-width="0.7"/>
<text x="623.3" y="1217.55" font-size="10.8" text-anchor="end" fill="#333333" textLength="5.59" lengthAdjust="spacingAndGlyphs">0</text>
<line x1="629.5" y1="1214.3" x2="629.5" y2="1221.25" stroke="#888" stroke-width="0.7"/>
<text x="629.5" y="1231.9" font-size="10.8" text-anchor="middle" fill="#333333" textLength="5.59" lengthAdjust="spacingAndGlyphs">0</text>
<line x1="667.75" y1="1214.3" x2="667.75" y2="1221.25" stroke="#888" stroke-width="0.7"/>
<text x="667.75" y="1231.9" font-size="10.8" text-anchor="middle" fill="#333333" textLength="16.76" lengthAdjust="spacingAndGlyphs">200</text>
<line x1="705.25" y1="1214.3" x2="705.25" y2="1221.25" stroke="#888" stroke-width="0.7"/>
<text x="705.25" y="1231.9" font-size="10.8" text-anchor="middle" fill="#333333" textLength="16.76" lengthAdjust="spacingAndGlyphs">400</text>
<line x1="743" y1="1214.3" x2="743" y2="1221.25" stroke="#888" stroke-width="0.7"/>
<text x="743" y="1231.9" font-size="10.8" text-anchor="middle" fill="#333333" textLength="16.76" lengthAdjust="spacingAndGlyphs">600</text>
<line x1="780.5" y1="1214.3" x2="780.5" y2="1221.25" stroke="#888" stroke-width="0.7"/>
<text x="780.5" y="1231.9" font-size="10.8" text-anchor="middle" fill="#333333" textLength="16.76" lengthAdjust="spacingAndGlyphs">800</text>
<line x1="818.75" y1="1214.3" x2="818.75" y2="1221.25" stroke="#888" stroke-width="0.7"/>
<text x="818.75" y="1231.9" font-size="10.8" text-anchor="middle" fill="#333333" textLength="22.34" lengthAdjust="spacingAndGlyphs">1000</text>
<text x="761.25" y="1036.75" font-size="12.8" text-anchor="middle" fill="#222" textLength="86.5" lengthAdjust="spacingAndGlyphs">PKH67-positive</text>
<text x="761.4" y="1052" font-size="12.8" text-anchor="middle" fill="#222" textLength="76.25" lengthAdjust="spacingAndGlyphs">macrophages</text>
<defs><filter id="rough" x="-10%" y="-10%" width="120%" height="120%"><feTurbulence type="fractalNoise" baseFrequency="0.9" numOctaves="2" seed="3" result="n"/><feDisplacementMap in="SourceGraphic" in2="n" scale="3.2" xChannelSelector="R" yChannelSelector="G"/></filter></defs>
<path d="M640.12 1143.9 C644.37 1139.02 653.76 1133.21 664.27 1132.09 C674.77 1130.97 693.6 1133.43 703.17 1137.19 C712.73 1140.95 719.89 1148.03 721.68 1154.63 C723.47 1161.22 718.32 1169.61 713.9 1176.76 C709.47 1183.91 700.93 1192.57 695.12 1197.55 C689.3 1202.54 684.16 1206.23 679.02 1206.67 C673.88 1207.12 669.07 1203.99 664.27 1200.23 C659.46 1196.48 654.43 1190.62 650.18 1184.14 C645.93 1177.65 640.46 1168.04 638.78 1161.33 C637.1 1154.63 635.87 1148.77 640.12 1143.9 Z" fill="#2f3590" filter="url(#rough)"/>
<path d="M652.19 1149.93 C655.95 1146.65 665.83 1142.62 673.66 1142.29 C681.48 1141.95 692.84 1144.97 699.14 1147.92 C705.45 1150.87 710.48 1155.63 711.48 1159.99 C712.49 1164.35 709.92 1168.89 705.18 1174.08 C700.44 1179.26 689.75 1190.44 683.04 1191.11 C676.34 1191.78 670.26 1182.95 664.94 1178.1 C659.62 1173.25 653.24 1166.7 651.12 1162.01 C649 1157.31 648.44 1153.22 652.19 1149.93 Z" fill="#3d5fc4"/>
<path d="M658.23 1145.91 C662.07 1143.4 671.53 1144.41 677.68 1144.97 C683.83 1145.53 690.42 1146.76 695.12 1149.26 C699.81 1151.77 704.95 1156.08 705.85 1159.99 C706.74 1163.91 704.28 1168.22 700.48 1172.74 C696.68 1177.25 688.63 1186.75 683.04 1187.09 C677.46 1187.42 671.69 1179.26 666.95 1174.75 C662.21 1170.23 656.06 1164.8 654.61 1159.99 C653.15 1155.19 654.38 1148.41 658.23 1145.91 Z" fill="#52c8e2"/>
<path d="M661.58 1148.99 C664.87 1147.09 672.54 1147.43 677.68 1147.92 C682.82 1148.41 688.48 1149.71 692.43 1151.95 C696.39 1154.18 700.75 1158.09 701.42 1161.33 C702.09 1164.58 699.75 1167.82 696.46 1171.4 C693.17 1174.97 686.4 1182.8 681.7 1182.8 C677.01 1182.8 672.25 1175.31 668.29 1171.4 C664.33 1167.48 659.08 1163.06 657.96 1159.32 C656.84 1155.59 658.3 1150.89 661.58 1148.99 Z" fill="#8fd11f"/>
<path d="M666.28 1152.21 C669.01 1150.83 675.11 1150.6 679.02 1151.01 C682.93 1151.41 686.8 1152.79 689.75 1154.63 C692.7 1156.46 696.28 1159.43 696.73 1162.01 C697.17 1164.58 695.16 1167.21 692.43 1170.05 C689.71 1172.89 684.05 1179.15 680.36 1179.04 C676.67 1178.93 673.25 1172.67 670.3 1169.38 C667.35 1166.1 663.33 1162.18 662.66 1159.32 C661.99 1156.46 663.55 1153.6 666.28 1152.21 Z" fill="#ffe000"/>
<path d="M671.64 1155.97 C673.54 1154.78 677.68 1154.56 680.36 1154.9 C683.04 1155.23 685.95 1156.57 687.74 1157.98 C689.53 1159.39 691.09 1161.67 691.09 1163.35 C691.09 1165.02 689.53 1166.32 687.74 1168.04 C685.95 1169.76 682.71 1173.68 680.36 1173.68 C678.01 1173.68 675.56 1169.99 673.66 1168.04 C671.75 1166.1 669.3 1164.02 668.96 1162.01 C668.63 1159.99 669.74 1157.15 671.64 1155.97 Z" fill="#ff7512"/>
<path d="M675 1158.38 C676.38 1157.49 679.13 1157 681.03 1157.31 C682.93 1157.62 685.24 1159.19 686.4 1160.26 C687.56 1161.33 688.23 1162.63 688.01 1163.75 C687.78 1164.87 686.38 1165.98 685.06 1166.97 C683.74 1167.95 681.66 1169.74 680.09 1169.65 C678.53 1169.56 676.9 1167.59 675.67 1166.43 C674.44 1165.27 672.83 1164.02 672.72 1162.68 C672.6 1161.33 673.61 1159.28 675 1158.38 Z" fill="#e8182a"/>
<path d="M677.41 1160.26 C678.33 1159.66 679.87 1159.14 681.03 1159.32 C682.2 1159.5 683.67 1160.6 684.39 1161.33 C685.1 1162.07 685.5 1163.03 685.33 1163.75 C685.15 1164.46 684.19 1165.09 683.31 1165.63 C682.44 1166.16 681.08 1167.01 680.09 1166.97 C679.11 1166.92 678.17 1166.03 677.41 1165.36 C676.65 1164.69 675.53 1163.79 675.53 1162.94 C675.53 1162.09 676.49 1160.87 677.41 1160.26 Z" fill="#b5232f"/>
<path d="M728.38 1114.39 C729.28 1108.57 732.41 1099.23 736.7 1094.27 C740.99 1089.3 748.55 1086.8 754.14 1084.61 C759.73 1082.42 765.36 1080.18 770.23 1081.12 C775.11 1082.06 781.19 1086.04 783.38 1090.24 C785.57 1094.44 784.68 1100.53 783.38 1106.34 C782.08 1112.15 779.13 1119.98 775.6 1125.12 C772.07 1130.26 767.55 1134.95 762.19 1137.19 C756.82 1139.43 748.55 1139.87 743.41 1138.53 C738.27 1137.19 733.84 1133.17 731.33 1129.14 C728.83 1125.12 727.49 1120.2 728.38 1114.39 Z" fill="#2f3590" filter="url(#rough)"/>
<path d="M735.63 1113.04 C736.79 1108.91 739.43 1102.2 743.41 1098.29 C747.39 1094.38 754.59 1091.31 759.5 1089.57 C764.42 1087.83 769.68 1086.82 772.92 1087.83 C776.16 1088.83 778.17 1092.07 778.95 1095.61 C779.74 1099.14 779.29 1104.44 777.61 1109.02 C775.94 1113.6 772.58 1119.3 768.89 1123.11 C765.2 1126.91 759.73 1130.48 755.48 1131.82 C751.23 1133.17 746.58 1132.61 743.41 1131.15 C740.23 1129.7 737.73 1126.12 736.43 1123.11 C735.14 1120.09 734.46 1117.18 735.63 1113.04 Z" fill="#3d5fc4"/>
<path d="M740.99 1110.36 C742.22 1107.79 744.79 1105.33 748.77 1102.31 C752.75 1099.3 760.96 1093.59 764.87 1092.25 C768.78 1090.91 770.86 1092.37 772.25 1094.27 C773.63 1096.17 774.42 1099.63 773.19 1103.66 C771.96 1107.68 768.04 1114.57 764.87 1118.41 C761.69 1122.26 757.27 1125.56 754.14 1126.73 C751.01 1127.89 748.21 1126.88 746.09 1125.39 C743.97 1123.89 742.24 1120.24 741.4 1117.74 C740.55 1115.24 739.76 1112.93 740.99 1110.36 Z" fill="#52c8e2"/>
<path d="M745.42 1109.02 C746.65 1107.34 749.67 1106.34 752.8 1104.33 C755.93 1102.31 761.4 1097.84 764.2 1096.95 C766.99 1096.05 768.6 1097.73 769.56 1098.96 C770.53 1100.19 771.08 1101.42 769.97 1104.33 C768.85 1107.23 765.27 1113.38 762.86 1116.4 C760.44 1119.42 757.83 1121.76 755.48 1122.43 C753.13 1123.11 750.45 1121.76 748.77 1120.42 C747.1 1119.08 745.98 1116.29 745.42 1114.39 C744.86 1112.49 744.19 1110.7 745.42 1109.02 Z" fill="#73d2b0"/>
<g fill="#2f3590">
<rect x="633.23" y="1178.62" width="0.9" height="0.9"/>
<rect x="723.31" y="1147.9" width="0.9" height="0.9"/>
<rect x="630.8" y="1165.82" width="0.9" height="0.9"/>
<rect x="699.85" y="1200.6" width="0.9" height="0.9"/>
<rect x="644.87" y="1133.73" width="0.9" height="0.9"/>
<rect x="719.05" y="1186.94" width="0.9" height="0.9"/>
<rect x="724.13" y="1188.43" width="0.9" height="0.9"/>
<rect x="665.11" y="1130.69" width="0.9" height="0.9"/>
<rect x="733.66" y="1162.6" width="0.9" height="0.9"/>
<rect x="652.02" y="1130.68" width="0.9" height="0.9"/>
<rect x="704.27" y="1194.51" width="0.9" height="0.9"/>
<rect x="637.05" y="1160.94" width="0.9" height="0.9"/>
<rect x="697.22" y="1199.13" width="0.9" height="0.9"/>
<rect x="727.81" y="1174.64" width="0.9" height="0.9"/>
<rect x="631.64" y="1181.93" width="0.9" height="0.9"/>
<rect x="630.54" y="1162.57" width="0.9" height="0.9"/>
<rect x="629.94" y="1168.09" width="0.9" height="0.9"/>
<rect x="635.68" y="1176.97" width="0.9" height="0.9"/>
<rect x="734.31" y="1167.32" width="0.9" height="0.9"/>
<rect x="707.69" y="1129.01" width="0.9" height="0.9"/>
<rect x="662.09" y="1198.6" width="0.9" height="0.9"/>
<rect x="669.65" y="1199.17" width="0.9" height="0.9"/>
<rect x="685.23" y="1124.96" width="0.9" height="0.9"/>
<rect x="707.44" y="1132.58" width="0.9" height="0.9"/>
<rect x="730.93" y="1155.63" width="0.9" height="0.9"/>
<rect x="725.97" y="1168.16" width="0.9" height="0.9"/>
<rect x="721.25" y="1144.54" width="0.9" height="0.9"/>
<rect x="727.6" y="1162.71" width="0.9" height="0.9"/>
<rect x="725.25" y="1184.17" width="0.9" height="0.9"/>
<rect x="688.6" y="1126.67" width="0.9" height="0.9"/>
<rect x="720.42" y="1185.8" width="0.9" height="0.9"/>
<rect x="730.49" y="1157.58" width="0.9" height="0.9"/>
<rect x="714.29" y="1190.63" width="0.9" height="0.9"/>
<rect x="715.8" y="1187.03" width="0.9" height="0.9"/>
<rect x="693.54" y="1128.67" width="0.9" height="0.9"/>
<rect x="635.53" y="1152.11" width="0.9" height="0.9"/>
<rect x="698.99" y="1202.69" width="0.9" height="0.9"/>
<rect x="714.52" y="1194.82" width="0.9" height="0.9"/>
<rect x="715.95" y="1191.3" width="0.9" height="0.9"/>
<rect x="691.05" y="1200.76" width="0.9" height="0.9"/>
<rect x="731.41" y="1159.47" width="0.9" height="0.9"/>
<rect x="662.75" y="1204.23" width="0.9" height="0.9"/>
<rect x="691.99" y="1201.59" width="0.9" height="0.9"/>
<rect x="710.97" y="1131.87" width="0.9" height="0.9"/>
<rect x="723.89" y="1191.14" width="0.9" height="0.9"/>
<rect x="690.92" y="1200.7" width="0.9" height="0.9"/>
<rect x="687.02" y="1125.86" width="0.9" height="0.9"/>
<rect x="667.69" y="1198.81" width="0.9" height="0.9"/>
<rect x="722.2" y="1187.38" width="0.9" height="0.9"/>
<rect x="682.55" y="1204.2" width="0.9" height="0.9"/>
<rect x="647" y="1193.33" width="0.9" height="0.9"/>
<rect x="727.29" y="1156.84" width="0.9" height="0.9"/>
<rect x="633.44" y="1146.45" width="0.9" height="0.9"/>
<rect x="698.8" y="1197.91" width="0.9" height="0.9"/>
<rect x="724.05" y="1142.28" width="0.9" height="0.9"/>
<rect x="680.51" y="1201.06" width="0.9" height="0.9"/>
<rect x="676.82" y="1119.63" width="0.9" height="0.9"/>
<rect x="697.97" y="1204.76" width="0.9" height="0.9"/>
<rect x="717.12" y="1137.51" width="0.9" height="0.9"/>
<rect x="641.19" y="1183.37" width="0.9" height="0.9"/>
<rect x="732.39" y="1177.43" width="0.9" height="0.9"/>
<rect x="684.06" y="1204.94" width="0.9" height="0.9"/>
<rect x="678.08" y="1205.92" width="0.9" height="0.9"/>
<rect x="642.15" y="1143.96" width="0.9" height="0.9"/>
<rect x="703.41" y="1201.16" width="0.9" height="0.9"/>
<rect x="721.96" y="1181.99" width="0.9" height="0.9"/>
<rect x="631.53" y="1150.67" width="0.9" height="0.9"/>
<rect x="645.46" y="1140.31" width="0.9" height="0.9"/>
<rect x="719.91" y="1147.49" width="0.9" height="0.9"/>
<rect x="726.35" y="1171.54" width="0.9" height="0.9"/>
<rect x="726.57" y="1119.29" width="0.9" height="0.9"/>
<rect x="770.21" y="1136.01" width="0.9" height="0.9"/>
<rect x="727.42" y="1095.5" width="0.9" height="0.9"/>
<rect x="731.62" y="1134.76" width="0.9" height="0.9"/>
<rect x="790.32" y="1105.7" width="0.9" height="0.9"/>
<rect x="743" y="1075.33" width="0.9" height="0.9"/>
<rect x="774.87" y="1130.83" width="0.9" height="0.9"/>
<rect x="792.22" y="1113.97" width="0.9" height="0.9"/>
<rect x="744.15" y="1071.66" width="0.9" height="0.9"/>
<rect x="790.11" y="1114.41" width="0.9" height="0.9"/>
<rect x="720.06" y="1113.81" width="0.9" height="0.9"/>
<rect x="739.69" y="1140.07" width="0.9" height="0.9"/>
<rect x="786" y="1123.94" width="0.9" height="0.9"/>
<rect x="752.47" y="1070.39" width="0.9" height="0.9"/>
<rect x="752.61" y="1071.96" width="0.9" height="0.9"/>
<rect x="765.42" y="1071.61" width="0.9" height="0.9"/>
<rect x="734.4" y="1134.99" width="0.9" height="0.9"/>
<rect x="785.27" y="1087.09" width="0.9" height="0.9"/>
<rect x="724.17" y="1125.97" width="0.9" height="0.9"/>
<rect x="778.03" y="1082.02" width="0.9" height="0.9"/>
<rect x="732.09" y="1084.95" width="0.9" height="0.9"/>
<rect x="725.32" y="1091.61" width="0.9" height="0.9"/>
<rect x="786.1" y="1125.05" width="0.9" height="0.9"/>
<rect x="792.2" y="1108.69" width="0.9" height="0.9"/>
<rect x="750.96" y="1074.71" width="0.9" height="0.9"/>
<rect x="752.24" y="1072.99" width="0.9" height="0.9"/>
<rect x="721.55" y="1121.93" width="0.9" height="0.9"/>
<rect x="786.42" y="1126" width="0.9" height="0.9"/>
<rect x="789.56" y="1115.97" width="0.9" height="0.9"/>
<rect x="723.77" y="1113.68" width="0.9" height="0.9"/>
<rect x="744.66" y="1075.42" width="0.9" height="0.9"/>
<rect x="727.61" y="1083.82" width="0.9" height="0.9"/>
<rect x="754.37" y="1136.71" width="0.9" height="0.9"/>
<rect x="744.37" y="1139.46" width="0.9" height="0.9"/>
<rect x="764.72" y="1136.54" width="0.9" height="0.9"/>
<rect x="784.62" y="1089.05" width="0.9" height="0.9"/>
<rect x="721.07" y="1121.79" width="0.9" height="0.9"/>
<rect x="739.13" y="1137.43" width="0.9" height="0.9"/>
<rect x="766.11" y="1137.92" width="0.9" height="0.9"/>
<rect x="768.23" y="1072.6" width="0.9" height="0.9"/>
<rect x="779.63" y="1085.79" width="0.9" height="0.9"/>
<rect x="727.24" y="1092.7" width="0.9" height="0.9"/>
<rect x="777.72" y="1132.62" width="0.9" height="0.9"/>
<rect x="774.48" y="1076.46" width="0.9" height="0.9"/>
<rect x="746.49" y="1071.05" width="0.9" height="0.9"/>
<rect x="750.2" y="1137.36" width="0.9" height="0.9"/>
<rect x="724.75" y="1118.93" width="0.9" height="0.9"/>
<rect x="762.93" y="1138.58" width="0.9" height="0.9"/>
<rect x="731.63" y="1084.19" width="0.9" height="0.9"/>
<rect x="740.93" y="1139.42" width="0.9" height="0.9"/>
<rect x="788.85" y="1106.25" width="0.9" height="0.9"/>
<rect x="782.65" y="1122.34" width="0.9" height="0.9"/>
<rect x="776.78" y="1086.57" width="0.9" height="0.9"/>
<rect x="746.62" y="1074.16" width="0.9" height="0.9"/>
<rect x="742.4" y="1139.62" width="0.9" height="0.9"/>
<rect x="786.5" y="1113.62" width="0.9" height="0.9"/>
<rect x="726.28" y="1117.77" width="0.9" height="0.9"/>
<rect x="770.83" y="1079.85" width="0.9" height="0.9"/>
<rect x="774.84" y="1130.95" width="0.9" height="0.9"/>
<rect x="732.39" y="1083.91" width="0.9" height="0.9"/>
</g>
<rect x="721.3" y="1066.4" width="81.1" height="76.2" fill="none" stroke="#8da4dc" stroke-width="1.1"/>
<!-- Panel F -->
<text x="930.5" y="513.8" font-size="36" font-weight="bold" font-family='"DejaVu Sans", "Liberation Sans", sans-serif'>F</text>
<text x="1182.5" y="588" font-size="24" text-anchor="middle" textLength="286" lengthAdjust="spacingAndGlyphs">Macrophage phagocytosis</text>
<text x="1177" y="618" font-size="24" text-anchor="middle" textLength="243.75" lengthAdjust="spacingAndGlyphs">of apoptotic myoblasts</text>
<line x1="1044.25" y1="653.5" x2="1044.25" y2="975" stroke="#000" stroke-width="1.5"/>
<line x1="1031.25" y1="974.25" x2="1326.25" y2="974.25" stroke="#000" stroke-width="1.5"/>
<line x1="1031.25" y1="654.25" x2="1044.25" y2="654.25" stroke="#000" stroke-width="1.5"/>
<text x="1026.8" y="662.15" font-size="24.8" text-anchor="end" textLength="33.2" lengthAdjust="spacingAndGlyphs">1.6</text>
<line x1="1031.25" y1="718.25" x2="1044.25" y2="718.25" stroke="#000" stroke-width="1.5"/>
<text x="1026.8" y="726.15" font-size="24.8" text-anchor="end" textLength="33.2" lengthAdjust="spacingAndGlyphs">1.4</text>
<line x1="1031.25" y1="782" x2="1044.25" y2="782" stroke="#000" stroke-width="1.5"/>
<text x="1026.8" y="789.9" font-size="24.8" text-anchor="end" textLength="33.2" lengthAdjust="spacingAndGlyphs">1.2</text>
<line x1="1031.25" y1="846.25" x2="1044.25" y2="846.25" stroke="#000" stroke-width="1.5"/>
<text x="1026.8" y="854.15" font-size="24.8" text-anchor="end" textLength="33.2" lengthAdjust="spacingAndGlyphs">1.0</text>
<line x1="1031.25" y1="910.5" x2="1044.25" y2="910.5" stroke="#000" stroke-width="1.5"/>
<text x="1026.8" y="918.4" font-size="24.8" text-anchor="end" textLength="33.2" lengthAdjust="spacingAndGlyphs">0.8</text>
<line x1="1031.25" y1="974.25" x2="1044.25" y2="974.25" stroke="#000" stroke-width="1.5"/>
<text x="1026.8" y="982.15" font-size="24.8" text-anchor="end" textLength="33.2" lengthAdjust="spacingAndGlyphs">0.6</text>
<line x1="1100" y1="974.25" x2="1100" y2="986.75" stroke="#000" stroke-width="1.5"/>
<line x1="1184.25" y1="974.25" x2="1184.25" y2="986.75" stroke="#000" stroke-width="1.5"/>
<line x1="1269" y1="974.25" x2="1269" y2="986.75" stroke="#000" stroke-width="1.5"/>
<text x="973.8" y="814.75" font-size="24" text-anchor="middle" transform="rotate(-90 973.8 814.75)" textLength="270.5" lengthAdjust="spacingAndGlyphs">Normalized Phagocytocis</text>
<path d="M1100 758.75 V695.5 H1269 V716.25" fill="none" stroke="#000" stroke-width="1.5" stroke-linejoin="miter"/>
<text x="1184.7" y="688.5" font-size="29" text-anchor="middle" font-weight="bold" font-family='"DejaVu Sans", "Liberation Sans", sans-serif'>*</text>
<line x1="1072" y1="846.5" x2="1128.25" y2="846.5" stroke="#000" stroke-width="3.5"/>
<line x1="1158.25" y1="852.25" x2="1211.25" y2="852.25" stroke="#000" stroke-width="3.5"/>
<line x1="1240.75" y1="808" x2="1297" y2="808" stroke="#000" stroke-width="3.5"/>
<g fill="none" stroke="#000" stroke-width="3.5">
<circle cx="1100" cy="810.5" r="6.4"/>
<circle cx="1078.25" cy="833.75" r="6.4"/>
<circle cx="1095.5" cy="832.5" r="6.4"/>
<circle cx="1087" cy="842" r="6.4"/>
<circle cx="1104.25" cy="843.75" r="6.4"/>
<circle cx="1113.75" cy="839.5" r="6.4"/>
<circle cx="1121.75" cy="838.25" r="6.4"/>
<circle cx="1091.25" cy="857" r="6.4"/>
<circle cx="1082.5" cy="866.75" r="6.4"/>
<circle cx="1100" cy="865" r="6.4"/>
<circle cx="1108.75" cy="861.75" r="6.4"/>
<circle cx="1117" cy="867" r="6.4"/>
</g>
<g fill="none" stroke="#bf00e6" stroke-width="3.5">
<circle cx="1195.5" cy="769.25" r="6.4"/>
<circle cx="1173.75" cy="779" r="6.4"/>
<circle cx="1184.5" cy="791.75" r="6.4"/>
<circle cx="1184.5" cy="842" r="6.4"/>
<circle cx="1162.5" cy="850.75" r="6.4"/>
<circle cx="1206.25" cy="850.75" r="6.4"/>
<circle cx="1184.5" cy="865" r="6.4"/>
<circle cx="1173.75" cy="878.5" r="6.4"/>
<circle cx="1195.5" cy="880.5" r="6.4"/>
<circle cx="1173.75" cy="894.5" r="6.4"/>
<circle cx="1195.5" cy="895.75" r="6.4"/>
<circle cx="1184.5" cy="932.75" r="6.4"/>
</g>
<g fill="none" stroke="#0000ff" stroke-width="3.5">
<circle cx="1258" cy="754" r="6.4"/>
<circle cx="1279.5" cy="755.5" r="6.4"/>
<circle cx="1290.5" cy="768.75" r="6.4"/>
<circle cx="1268.75" cy="774.5" r="6.4"/>
<circle cx="1247" cy="781.25" r="6.4"/>
<circle cx="1290.5" cy="786.25" r="6.4"/>
<circle cx="1268.75" cy="801.25" r="6.4"/>
<circle cx="1268.75" cy="824.5" r="6.4"/>
<circle cx="1268.75" cy="841.75" r="6.4"/>
<circle cx="1268.75" cy="861.25" r="6.4"/>
<circle cx="1247" cy="877.25" r="6.4"/>
<circle cx="1290.5" cy="872.25" r="6.4"/>
</g>
<text x="1107.8" y="1006.6" font-size="23" text-anchor="end" transform="rotate(-45 1107.8 1006.6)">Control</text>
<text x="1179.1" y="1010" font-size="23" text-anchor="end" transform="rotate(-45 1179.1 1010)">Low C3</text>
<text x="1172.2" y="1061.8" font-size="23" text-anchor="middle" transform="rotate(-45 1172.2 1061.8)">(10ug/ml)</text>
<text x="1263.8" y="1010" font-size="23" text-anchor="end" transform="rotate(-45 1263.8 1010)">High C3</text>
<text x="1252.3" y="1066.7" font-size="23" text-anchor="middle" transform="rotate(-45 1252.3 1066.7)">(100ug/ml)</text>
<!-- Panel G -->
<text x="1435" y="510" font-size="35.5" font-weight="bold" font-family='"DejaVu Sans", "Liberation Sans", sans-serif'>G</text>
<text x="1628.4" y="506.8" font-size="23.7" text-anchor="middle" textLength="167.2" lengthAdjust="spacingAndGlyphs">Basal glycolysis</text>
<line x1="1546" y1="543.3" x2="1546" y2="779.1" stroke="#000" stroke-width="1.4"/>
<line x1="1537.3" y1="778.4" x2="1696.8" y2="778.4" stroke="#000" stroke-width="1.4"/>
<line x1="1537.3" y1="544" x2="1546" y2="544" stroke="#000" stroke-width="1.4"/>
<text x="1532.5" y="549.94" font-size="16.6" text-anchor="end" textLength="40" lengthAdjust="spacingAndGlyphs">0.010</text>
<line x1="1537.3" y1="591.3" x2="1546" y2="591.3" stroke="#000" stroke-width="1.4"/>
<text x="1532.5" y="597.24" font-size="16.6" text-anchor="end" textLength="40" lengthAdjust="spacingAndGlyphs">0.008</text>
<line x1="1537.3" y1="638" x2="1546" y2="638" stroke="#000" stroke-width="1.4"/>
<text x="1532.5" y="643.94" font-size="16.6" text-anchor="end" textLength="40" lengthAdjust="spacingAndGlyphs">0.006</text>
<line x1="1537.3" y1="685.1" x2="1546" y2="685.1" stroke="#000" stroke-width="1.4"/>
<text x="1532.5" y="691.04" font-size="16.6" text-anchor="end" textLength="40" lengthAdjust="spacingAndGlyphs">0.004</text>
<line x1="1537.3" y1="731.7" x2="1546" y2="731.7" stroke="#000" stroke-width="1.4"/>
<text x="1532.5" y="737.64" font-size="16.6" text-anchor="end" textLength="40" lengthAdjust="spacingAndGlyphs">0.002</text>
<line x1="1537.3" y1="778.4" x2="1546" y2="778.4" stroke="#000" stroke-width="1.4"/>
<text x="1532.5" y="784.34" font-size="16.6" text-anchor="end" textLength="40" lengthAdjust="spacingAndGlyphs">0.000</text>
<line x1="1588.5" y1="778.4" x2="1588.5" y2="788" stroke="#000" stroke-width="1.4"/>
<line x1="1653" y1="778.4" x2="1653" y2="788" stroke="#000" stroke-width="1.4"/>
<text x="1480.4" y="661.8" font-size="19.5" text-anchor="middle" transform="rotate(-90 1480.4 661.8)" textLength="183.6" lengthAdjust="spacingAndGlyphs">ECAR (mpH/min/cell)</text>
<path d="M1588.5 631.6 V556.9 H1653.3 V570" fill="none" stroke="#000" stroke-width="1.4" stroke-linejoin="miter"/>
<text x="1620.8" y="552.8" font-size="23" text-anchor="middle" font-weight="bold" font-family='"DejaVu Sans", "Liberation Sans", sans-serif'>*</text>
<line x1="1567.2" y1="676" x2="1610" y2="676" stroke="#000" stroke-width="2.6"/>
<line x1="1632" y1="637.7" x2="1674.6" y2="637.7" stroke="#000" stroke-width="2.6"/>
<g fill="none" stroke="#000" stroke-width="2.8">
<circle cx="1588.8" cy="646" r="4.45"/>
<circle cx="1588.8" cy="655.6" r="4.45"/>
<circle cx="1597.9" cy="671.5" r="4.45"/>
<circle cx="1579.5" cy="680.8" r="4.45"/>
<circle cx="1579.5" cy="703.7" r="4.45"/>
<circle cx="1597.9" cy="703.7" r="4.45"/>
</g>
<g fill="none" stroke="#0000ff" stroke-width="2.8">
<circle cx="1653.1" cy="584.4" r="4.45"/>
<circle cx="1653.1" cy="603.3" r="4.45"/>
<circle cx="1653.1" cy="631.1" r="4.45"/>
<circle cx="1653.1" cy="644.4" r="4.45"/>
<circle cx="1670.1" cy="647.3" r="4.45"/>
<circle cx="1636.2" cy="653.5" r="4.45"/>
</g>
<text x="1594.9" y="805.1" font-size="17.3" text-anchor="end" transform="rotate(-45 1594.9 805.1)">Control</text>
<text x="1658" y="806" font-size="17.3" text-anchor="end" transform="rotate(-45 1658 806)">Phagocytosis</text>
<text x="1911.5" y="508.25" font-size="24" text-anchor="middle" textLength="122.3" lengthAdjust="spacingAndGlyphs">Proton leak</text>
<line x1="1840.25" y1="546.3" x2="1840.25" y2="781.2" stroke="#000" stroke-width="1.4"/>
<line x1="1831" y1="780.5" x2="2000" y2="780.5" stroke="#000" stroke-width="1.4"/>
<line x1="1831" y1="547" x2="1840.25" y2="547" stroke="#000" stroke-width="1.4"/>
<text x="1826" y="553.09" font-size="17" text-anchor="end" textLength="42.5" lengthAdjust="spacingAndGlyphs">0.006</text>
<line x1="1831" y1="624.5" x2="1840.25" y2="624.5" stroke="#000" stroke-width="1.4"/>
<text x="1826" y="630.59" font-size="17" text-anchor="end" textLength="42.5" lengthAdjust="spacingAndGlyphs">0.004</text>
<line x1="1831" y1="702.5" x2="1840.25" y2="702.5" stroke="#000" stroke-width="1.4"/>
<text x="1826" y="708.59" font-size="17" text-anchor="end" textLength="42.5" lengthAdjust="spacingAndGlyphs">0.002</text>
<line x1="1831" y1="780.5" x2="1840.25" y2="780.5" stroke="#000" stroke-width="1.4"/>
<text x="1826" y="786.59" font-size="17" text-anchor="end" textLength="42.5" lengthAdjust="spacingAndGlyphs">0.000</text>
<line x1="1885" y1="780.5" x2="1885" y2="789.8" stroke="#000" stroke-width="1.4"/>
<line x1="1952.9" y1="780.5" x2="1952.9" y2="789.8" stroke="#000" stroke-width="1.4"/>
<text x="1771.8" y="664.25" font-size="19.5" text-anchor="middle" transform="rotate(-90 1771.8 664.25)" textLength="174" lengthAdjust="spacingAndGlyphs">OCR (pmol/min/cell)</text>
<path d="M1885 622.7 V558.8 H1953 V572" fill="none" stroke="#000" stroke-width="1.4" stroke-linejoin="miter"/>
<text x="1919" y="555.1" font-size="23" text-anchor="middle" font-weight="bold" font-family='"DejaVu Sans", "Liberation Sans", sans-serif'>*</text>
<line x1="1865" y1="729" x2="1907.75" y2="729" stroke="#000" stroke-width="2.6"/>
<line x1="1930.5" y1="656.6" x2="1975.7" y2="656.6" stroke="#000" stroke-width="2.6"/>
<g fill="none" stroke="#000" stroke-width="2.8">
<circle cx="1885.25" cy="636.5" r="4.45"/>
<circle cx="1885.25" cy="711" r="4.45"/>
<circle cx="1867.5" cy="726.2" r="4.45"/>
<circle cx="1885.25" cy="733.5" r="4.45"/>
<circle cx="1903" cy="734" r="4.45"/>
<circle cx="1867.5" cy="741.2" r="4.45"/>
</g>
<g fill="none" stroke="#0000ff" stroke-width="2.8">
<circle cx="1953" cy="586.25" r="4.45"/>
<circle cx="1953" cy="621" r="4.45"/>
<circle cx="1953" cy="636.5" r="4.45"/>
<circle cx="1953" cy="677.5" r="4.45"/>
<circle cx="1953" cy="686.5" r="4.45"/>
<circle cx="1953" cy="707.75" r="4.45"/>
</g>
<text x="1890.5" y="806" font-size="17.3" text-anchor="end" transform="rotate(-45 1890.5 806)">Control</text>
<text x="1956.5" y="807.3" font-size="17.3" text-anchor="end" transform="rotate(-45 1956.5 807.3)">Phagocytosis</text>
<text x="1628.5" y="931.2" font-size="24" text-anchor="middle" textLength="169.1" lengthAdjust="spacingAndGlyphs">Basal glycolysis</text>
<line x1="1544.8" y1="967.8" x2="1544.8" y2="1207" stroke="#000" stroke-width="1.4"/>
<line x1="1535.2" y1="1206.3" x2="1702" y2="1206.3" stroke="#000" stroke-width="1.4"/>
<line x1="1535.2" y1="968.5" x2="1544.8" y2="968.5" stroke="#000" stroke-width="1.4"/>
<text x="1531.2" y="974.66" font-size="17.2" text-anchor="end" textLength="42.4" lengthAdjust="spacingAndGlyphs">0.010</text>
<line x1="1535.2" y1="1016.2" x2="1544.8" y2="1016.2" stroke="#000" stroke-width="1.4"/>
<text x="1531.2" y="1022.36" font-size="17.2" text-anchor="end" textLength="42.4" lengthAdjust="spacingAndGlyphs">0.008</text>
<line x1="1535.2" y1="1063.7" x2="1544.8" y2="1063.7" stroke="#000" stroke-width="1.4"/>
<text x="1531.2" y="1069.86" font-size="17.2" text-anchor="end" textLength="42.4" lengthAdjust="spacingAndGlyphs">0.006</text>
<line x1="1535.2" y1="1111" x2="1544.8" y2="1111" stroke="#000" stroke-width="1.4"/>
<text x="1531.2" y="1117.16" font-size="17.2" text-anchor="end" textLength="42.4" lengthAdjust="spacingAndGlyphs">0.004</text>
<line x1="1535.2" y1="1158.7" x2="1544.8" y2="1158.7" stroke="#000" stroke-width="1.4"/>
<text x="1531.2" y="1164.86" font-size="17.2" text-anchor="end" textLength="42.4" lengthAdjust="spacingAndGlyphs">0.002</text>
<line x1="1535.2" y1="1206.3" x2="1544.8" y2="1206.3" stroke="#000" stroke-width="1.4"/>
<text x="1531.2" y="1212.46" font-size="17.2" text-anchor="end" textLength="42.4" lengthAdjust="spacingAndGlyphs">0.000</text>
<line x1="1589.1" y1="1206.3" x2="1589.1" y2="1216" stroke="#000" stroke-width="1.4"/>
<line x1="1656.3" y1="1206.3" x2="1656.3" y2="1216" stroke="#000" stroke-width="1.4"/>
<text x="1475.9" y="1087.6" font-size="19.8" text-anchor="middle" transform="rotate(-90 1475.9 1087.6)" textLength="186.4" lengthAdjust="spacingAndGlyphs">ECAR (mpH/min/cell)</text>
<path d="M1589.3 1057.6 V981.3 H1656.8 V994.9" fill="none" stroke="#000" stroke-width="1.4" stroke-linejoin="miter"/>
<text x="1622.9" y="978" font-size="23" text-anchor="middle" font-weight="bold" font-family='"DejaVu Sans", "Liberation Sans", sans-serif'>*</text>
<line x1="1566.9" y1="1102.4" x2="1612" y2="1102.4" stroke="#000" stroke-width="2.6"/>
<line x1="1634.1" y1="1063.5" x2="1678.9" y2="1063.5" stroke="#000" stroke-width="2.6"/>
<g fill="none" stroke="#000" stroke-width="2.8">
<circle cx="1589.1" cy="1071.5" r="4.45"/>
<circle cx="1589.1" cy="1081.6" r="4.45"/>
<circle cx="1598.7" cy="1097.6" r="4.45"/>
<circle cx="1579.5" cy="1107.2" r="4.45"/>
<circle cx="1579.5" cy="1130.6" r="4.45"/>
<circle cx="1598.7" cy="1130.6" r="4.45"/>
</g>
<g fill="none" stroke="#0000ff" stroke-width="2.8">
<circle cx="1656.3" cy="1009.3" r="4.45"/>
<circle cx="1656.3" cy="1028.5" r="4.45"/>
<circle cx="1656.3" cy="1056.8" r="4.45"/>
<circle cx="1656.3" cy="1070.1" r="4.45"/>
<circle cx="1674.1" cy="1073.3" r="4.45"/>
<circle cx="1638.7" cy="1079.5" r="4.45"/>
</g>
<text x="1588.3" y="1234.6" font-size="17.3" text-anchor="middle" textLength="55.8" lengthAdjust="spacingAndGlyphs">Control</text>
<text x="1655.5" y="1234.6" font-size="17.3" text-anchor="middle">C3</text>
<text x="1911.7" y="937.7" font-size="24.5" text-anchor="middle" textLength="125" lengthAdjust="spacingAndGlyphs">Proton leak</text>
<line x1="1839.8" y1="975.55" x2="1839.8" y2="1205.2" stroke="#000" stroke-width="1.4"/>
<line x1="1830.2" y1="1204.5" x2="2000" y2="1204.5" stroke="#000" stroke-width="1.4"/>
<line x1="1830.2" y1="976.25" x2="1839.8" y2="976.25" stroke="#000" stroke-width="1.4"/>
<text x="1825.25" y="982.51" font-size="17.5" text-anchor="end" textLength="53.5" lengthAdjust="spacingAndGlyphs">0.0025</text>
<line x1="1830.2" y1="1022.2" x2="1839.8" y2="1022.2" stroke="#000" stroke-width="1.4"/>
<text x="1825.25" y="1028.47" font-size="17.5" text-anchor="end" textLength="53.5" lengthAdjust="spacingAndGlyphs">0.0020</text>
<line x1="1830.2" y1="1067.8" x2="1839.8" y2="1067.8" stroke="#000" stroke-width="1.4"/>
<text x="1825.25" y="1074.07" font-size="17.5" text-anchor="end" textLength="53.5" lengthAdjust="spacingAndGlyphs">0.0015</text>
<line x1="1830.2" y1="1113.25" x2="1839.8" y2="1113.25" stroke="#000" stroke-width="1.4"/>
<text x="1825.25" y="1119.52" font-size="17.5" text-anchor="end" textLength="53.5" lengthAdjust="spacingAndGlyphs">0.0010</text>
<line x1="1830.2" y1="1158.5" x2="1839.8" y2="1158.5" stroke="#000" stroke-width="1.4"/>
<text x="1825.25" y="1164.77" font-size="17.5" text-anchor="end" textLength="53.5" lengthAdjust="spacingAndGlyphs">0.0005</text>
<line x1="1830.2" y1="1204.5" x2="1839.8" y2="1204.5" stroke="#000" stroke-width="1.4"/>
<text x="1825.25" y="1210.77" font-size="17.5" text-anchor="end" textLength="53.5" lengthAdjust="spacingAndGlyphs">0.0000</text>
<line x1="1884.8" y1="1204.5" x2="1884.8" y2="1213.5" stroke="#000" stroke-width="1.4"/>
<line x1="1953.5" y1="1204.5" x2="1953.5" y2="1213.5" stroke="#000" stroke-width="1.4"/>
<text x="1757.8" y="1091" font-size="19.2" text-anchor="middle" transform="rotate(-90 1757.8 1091)" textLength="170" lengthAdjust="spacingAndGlyphs">OCR (pmol/min/cell)</text>
<line x1="1862" y1="1087.9" x2="1908" y2="1087.9" stroke="#000" stroke-width="2.6"/>
<line x1="1931" y1="1064.5" x2="1976.75" y2="1064.5" stroke="#000" stroke-width="2.6"/>
<g fill="none" stroke="#000" stroke-width="2.8">
<circle cx="1885" cy="1013.8" r="4.45"/>
<circle cx="1885" cy="1050" r="4.45"/>
<circle cx="1875.2" cy="1090" r="4.45"/>
<circle cx="1894.5" cy="1086.7" r="4.45"/>
<circle cx="1894.5" cy="1100" r="4.45"/>
<circle cx="1875.2" cy="1104.25" r="4.45"/>
</g>
<g fill="none" stroke="#0000ff" stroke-width="2.8">
<circle cx="1944" cy="1013.8" r="4.45"/>
<circle cx="1963.25" cy="1013.8" r="4.45"/>
<circle cx="1953.5" cy="1050" r="4.45"/>
<circle cx="1953.5" cy="1079" r="4.45"/>
<circle cx="1963.25" cy="1102" r="4.45"/>
<circle cx="1944" cy="1109" r="4.45"/>
</g>
<text x="1884" y="1231.8" font-size="17.4" text-anchor="middle" textLength="56.25" lengthAdjust="spacingAndGlyphs">Control</text>
<text x="1952.5" y="1231.8" font-size="17.4" text-anchor="middle">C3</text>
</svg>
</body></html>
